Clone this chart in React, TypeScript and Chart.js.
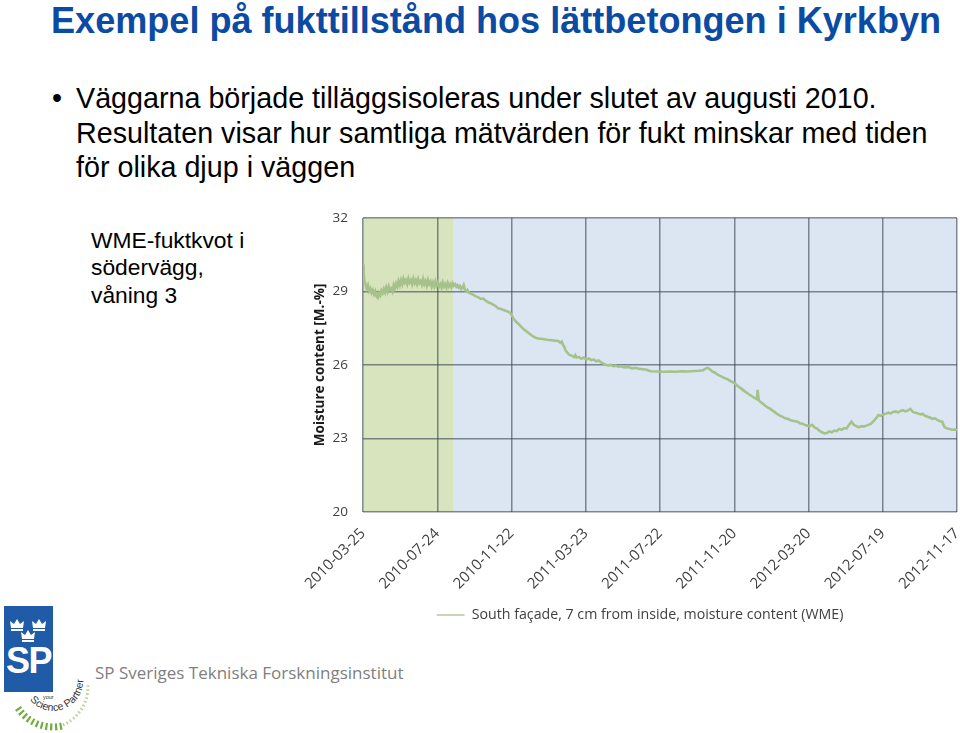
import React, { useEffect, useRef } from 'react';
import { Chart, registerables } from 'chart.js';

Chart.register(...registerables);

// ---------- data ----------
const tickLabels = [
  '2010-03-25', '2010-07-24', '2010-11-22', '2011-03-23', '2011-07-22',
  '2011-11-20', '2012-03-20', '2012-07-19', '2012-11-17',
];
// days since 2010-03-25
const tickDays = [0, 121, 242, 363, 484, 605, 726, 847, 968];
const yTicks = [20, 23, 26, 29, 32];

// background periods (days): before / after additional insulation
const bandStartDays = [0, 148];
const bandEndDays = [148, 968];

const seriesLabel = 'South façade, 7 cm from inside, moisture content (WME)';

const days = [
  0, 1, 2, 4, 6, 8, 10, 12, 14, 16, 18, 20, 22, 24, 26, 28, 30, 32, 34, 36, 38, 40,
  42, 44, 46, 48, 50, 52, 54, 56, 58, 60, 62, 64, 66, 68, 70, 72, 74, 76, 78, 80,
  82, 84, 86, 88, 90, 92, 94, 96, 98, 100, 102, 104, 106, 108, 110, 112, 114, 116,
  118, 120, 122, 124, 126, 128, 130, 132, 134, 136, 138, 140, 142, 144, 146, 148,
  150, 152, 154, 156, 158, 160, 162, 164, 166, 168, 170, 172,
  176, 180, 184, 188, 192, 196, 200, 204, 208, 212, 216, 220, 224, 228, 232, 236,
  240, 242, 246, 250, 254, 258, 262, 266, 270, 274, 278, 282, 286, 290, 300, 310,
  318, 322, 324, 326, 328, 330, 333, 336, 340, 344, 346, 348, 352, 356, 360, 364,
  368, 372, 376, 380, 384, 388, 392, 396, 400, 404, 408, 412, 416, 420, 426, 432,
  438, 444, 450, 456, 462, 466, 470, 480, 490, 500, 510, 520, 530, 540, 548, 554,
  558, 562, 566, 570, 574, 578, 582, 586, 590, 594, 598, 602, 606, 610, 614, 618,
  622, 626, 630, 634, 638, 642, 643, 645, 648, 652, 656, 660, 664, 668, 672, 676,
  680, 684, 688, 692, 696, 700, 704, 708, 712, 716, 720, 724, 728, 732, 736, 740,
  744, 748, 752, 756, 760, 764, 768, 772, 776, 780, 784, 788, 792, 796, 800, 804,
  808, 812, 816, 820, 824, 828, 832, 836, 840, 844, 848, 852, 856, 860, 864, 868,
  872, 876, 880, 884, 888, 892, 896, 900, 904, 908, 912, 916, 920, 924, 928, 932,
  936, 940, 944, 946, 948, 952, 956, 960, 964, 968,
];

const moisture = [
  30.10, 29.70, 29.45, 29.30, 29.12, 29.25, 29.02, 29.12, 28.95, 29.06, 28.88, 29.00,
  28.80, 28.74, 28.94, 28.84, 29.04, 28.94, 29.10, 28.96, 29.16, 29.00,
  29.20, 29.06, 29.12, 29.00, 29.26, 29.12, 29.32, 29.20, 29.42, 29.26, 29.46, 29.30,
  29.52, 29.36, 29.46, 29.30, 29.52, 29.36, 29.46, 29.30,
  29.52, 29.34, 29.46, 29.30, 29.50, 29.34, 29.42, 29.28, 29.50, 29.30, 29.42, 29.24,
  29.46, 29.30, 29.40, 29.20, 29.36, 29.20,
  29.40, 29.24, 29.36, 29.20, 29.30, 29.16, 29.36, 29.20, 29.30, 29.16, 29.34, 29.20,
  29.30, 29.18, 29.34, 29.24,
  29.30, 29.20, 29.26, 29.16, 29.22, 29.10, 29.16, 29.26, 29.06, 29.00, 29.06, 28.96,
  28.90, 28.86, 28.80, 28.76, 28.70, 28.71, 28.62, 28.56, 28.52, 28.46, 28.40, 28.31,
  28.29, 28.25, 28.21, 28.18,
  28.12, 28.05, 27.86, 27.75, 27.66, 27.55, 27.46, 27.38, 27.30, 27.22, 27.15, 27.10,
  27.08, 27.07, 27.03, 27.00,
  26.98, 26.90, 26.95, 26.82, 26.74, 26.60, 26.50, 26.42, 26.38, 26.32, 26.40, 26.30,
  26.32, 26.25, 26.30, 26.22,
  26.26, 26.20, 26.22, 26.15, 26.18, 26.10, 26.05, 26.00, 25.98, 26.00, 25.95, 25.97,
  25.93, 25.95, 25.90, 25.92,
  25.86, 25.88, 25.84, 25.82, 25.80, 25.76, 25.74, 25.73, 25.72, 25.73, 25.72, 25.74,
  25.73, 25.75, 25.76, 25.78,
  25.85, 25.88, 25.80, 25.72, 25.68, 25.60, 25.55, 25.50, 25.45, 25.42, 25.35, 25.30,
  25.25, 25.15, 25.08, 25.00,
  24.92, 24.85, 24.78, 24.72, 24.65, 24.60, 24.98, 24.55, 24.48, 24.40, 24.32, 24.25,
  24.20, 24.12, 24.05, 23.98,
  23.92, 23.88, 23.82, 23.80, 23.75, 23.72, 23.70, 23.68, 23.62, 23.60, 23.55, 23.52,
  23.50, 23.55, 23.45, 23.40,
  23.30, 23.25, 23.20, 23.22, 23.28, 23.25, 23.32, 23.30, 23.38, 23.35, 23.42, 23.40,
  23.55, 23.68, 23.55, 23.50,
  23.45, 23.50, 23.48, 23.52, 23.55, 23.60, 23.70, 23.82, 23.95, 23.92, 23.98, 24.00,
  24.05, 24.02, 24.08, 24.10,
  24.06, 24.12, 24.15, 24.10, 24.14, 24.20, 24.08, 24.05, 24.02, 23.98, 24.00, 23.92,
  23.88, 23.85, 23.80, 23.82,
  23.75, 23.70, 23.68, 23.55, 23.45, 23.40, 23.38, 23.35, 23.36, 23.34,
];

// ---------- styles ----------
const BAND_COLORS = ['#d7e4bd', '#dce6f2'];
const LINE_COLOR = '#a6c28b';
const GRID_COLOR = 'rgba(55, 65, 82, 0.6)';
const CHART_FONT = "'Open Sans', sans-serif";
const HTML_FONT = "'Liberation Sans', Arial, sans-serif";
const LEGEND_SHIFT = 13.5;

const bandsPlugin = {
  id: 'bands',
  beforeDraw(chart: any) {
    const { ctx, chartArea, scales } = chart;
    const xs = scales.x;
    ctx.save();
    bandStartDays.forEach((s, i) => {
      const x0 = xs.getPixelForValue(s);
      const x1 = xs.getPixelForValue(bandEndDays[i]);
      ctx.fillStyle = BAND_COLORS[i % BAND_COLORS.length];
      ctx.fillRect(x0, chartArea.top, x1 - x0, chartArea.bottom - chartArea.top);
    });
    ctx.restore();
  },
};

// nudge the legend so that it sits centred below the plot like the original slide
const legendShiftPlugin = {
  id: 'legendShift',
  afterLayout(chart: any) {
    const lg = chart.legend;
    if (lg) {
      lg.left += LEGEND_SHIFT;
      lg.right += LEGEND_SHIFT;
    }
  },
};

function MoistureChart() {
  const ref = useRef<HTMLCanvasElement | null>(null);
  useEffect(() => {
    if (!ref.current) return;
    const chart = new Chart(ref.current, {
      type: 'line',
      data: {
        datasets: [
          {
            label: seriesLabel,
            data: days.map((d, i) => ({ x: d, y: moisture[i] })),
            borderColor: LINE_COLOR,
            backgroundColor: LINE_COLOR,
            borderWidth: 2.6,
            pointRadius: 0,
            tension: 0,
          },
        ],
      },
      options: {
        responsive: false,
        animation: false,
        layout: { padding: { top: 12, right: 3, left: 0, bottom: 0 } },
        scales: {
          x: {
            type: 'linear',
            min: tickDays[0],
            max: tickDays[tickDays.length - 1],
            afterBuildTicks: (s: any) => {
              s.ticks = tickDays.map((v) => ({ value: v }));
            },
            afterFit: (s: any) => {
              s.height = 86;
              s.paddingLeft = 0;
              s.paddingRight = 0;
            },
            ticks: {
              autoSkip: false,
              maxRotation: 45,
              minRotation: 45,
              padding: 13,
              color: '#404040',
              font: { family: CHART_FONT, size: 15 },
              callback: (_v: any, i: number) => tickLabels[i],
            },
            grid: { color: GRID_COLOR, lineWidth: 1.5, drawTicks: false },
            border: { display: false },
          },
          y: {
            type: 'linear',
            min: yTicks[0],
            max: yTicks[yTicks.length - 1],
            afterBuildTicks: (s: any) => {
              s.ticks = yTicks.map((v) => ({ value: v }));
            },
            afterFit: (s: any) => {
              s.width = 67;
              s.paddingTop = 0;
              s.paddingBottom = 0;
            },
            ticks: {
              padding: 15,
              color: '#404040',
              font: { family: CHART_FONT, size: 13.5 },
            },
            title: {
              display: true,
              text: 'Moisture content [M.-%]',
              color: '#1a1a1a',
              font: { family: CHART_FONT, size: 13.5, weight: 'bold' },
              padding: { top: 16, bottom: 0 },
            },
            grid: { color: GRID_COLOR, lineWidth: 1.5, drawTicks: false },
            border: { display: false },
          },
        },
        plugins: {
          legend: {
            display: true,
            position: 'bottom',
            labels: {
              usePointStyle: true,
              pointStyle: 'line',
              pointStyleWidth: 28,
              padding: 10,
              color: '#404040',
              font: { family: CHART_FONT, size: 14.2 },
              generateLabels: (c: any) =>
                Chart.defaults.plugins.legend.labels
                  .generateLabels(c)
                  .map((it: any) => ({ ...it, lineWidth: 1.5, strokeStyle: '#b9c9a6' })),
            },
          },
          tooltip: { enabled: false },
        },
      } as any,
      plugins: [bandsPlugin, legendShiftPlugin],
    });
    return () => chart.destroy();
  }, []);
  return (
    <canvas
      ref={ref}
      width={664}
      height={426}
      style={{ position: 'absolute', left: 296, top: 206, width: 664, height: 426 }}
    />
  );
}

function Logo() {
  const crown = (cx: number, cy: number) => {
    const s = 6;
    const pts = [
      [cx - s, cy + 3], [cx - s - 1, cy - 4], [cx - s / 2, cy - 1], [cx, cy - 6],
      [cx + s / 2, cy - 1], [cx + s + 1, cy - 4], [cx + s, cy + 3],
    ].map((p) => p.join(',')).join(' ');
    return (
      <g key={`${cx}-${cy}`}>
        <polygon points={pts} fill="#fff" />
        <rect x={cx - s} y={cy + 4} width={2 * s} height={2} fill="#fff" />
      </g>
    );
  };
  return (
    <svg
      width={100}
      height={133}
      style={{ position: 'absolute', left: 0, top: 600 }}
      viewBox="0 0 100 133"
    >
      <rect x={4} y={6} width={49} height={86} fill="#1f5ba6" />
      {crown(17, 25)}
      {crown(39, 25)}
      {crown(28, 36)}
      <text
        x={28.5}
        y={73}
        textAnchor="middle"
        fill="#fff"
        style={{ font: `bold 36px ${HTML_FONT}`, letterSpacing: '-1.5px' }}
      >
        SP
      </text>
      <path id="arcText" d="M 30 100 A 30 30 0 0 0 83 78" fill="none" />
      <text style={{ font: `10.5px ${HTML_FONT}` }} fill="#333">
        <textPath href="#arcText">Science Partner</textPath>
      </text>
      <text x={43} y={99} style={{ font: `5.5px ${HTML_FONT}` }} fill="#333">your</text>
      <path
        d="M 18 108 A 42 42 0 0 0 62 126"
        fill="none"
        stroke="#72ad3f"
        strokeWidth={7}
        strokeDasharray="2.2 2.6"
      />
      <path
        d="M 63 125 A 42 42 0 0 0 88 84"
        fill="none"
        stroke="#b5d38f"
        strokeWidth={3}
        strokeDasharray="1.5 2.5"
      />
    </svg>
  );
}

export default function App() {
  const bulletLines = [
    'Väggarna började tilläggsisoleras under slutet av augusti 2010.',
    'Resultaten visar hur samtliga mätvärden för fukt minskar med tiden',
    'för olika djup i väggen',
  ];
  const sideLines = ['WME-fuktkvot i', 'södervägg,', 'våning 3'];
  return (
    <div
      style={{
        position: 'absolute',
        left: 0,
        top: 0,
        width: 960,
        height: 733,
        overflow: 'hidden',
        background: '#fff',
      }}
    >
      <div
        style={{
          position: 'absolute',
          left: 51,
          top: 3,
          font: `bold 36.1px/36px ${HTML_FONT}`,
          color: '#0c4ba3',
          whiteSpace: 'nowrap',
        }}
      >
        Exempel på fukttillstånd hos lättbetongen i Kyrkbyn
      </div>
      <div
        style={{
          position: 'absolute',
          left: 52,
          top: 81,
          font: `28.7px/34.5px ${HTML_FONT}`,
          color: '#000',
        }}
      >
        •
      </div>
      {bulletLines.map((t, i) => (
        <div
          key={i}
          style={{
            position: 'absolute',
            left: 76,
            top: 81 + i * 34.5,
            font: `28.7px/34.5px ${HTML_FONT}`,
            color: '#000',
            whiteSpace: 'nowrap',
          }}
        >
          {t}
        </div>
      ))}
      {sideLines.map((t, i) => (
        <div
          key={i}
          style={{
            position: 'absolute',
            left: 91,
            top: 226.5 + i * 27.5,
            font: `22.8px/27.5px ${HTML_FONT}`,
            color: '#000',
            whiteSpace: 'nowrap',
          }}
        >
          {t}
        </div>
      ))}
      <MoistureChart />
      <Logo />
      <div
        style={{
          position: 'absolute',
          left: 95,
          top: 662.5,
          font: `17px/20px 'Open Sans', sans-serif`,
          color: '#808080',
          whiteSpace: 'nowrap',
        }}
      >
        SP Sveriges Tekniska Forskningsinstitut
      </div>
    </div>
  );
}
